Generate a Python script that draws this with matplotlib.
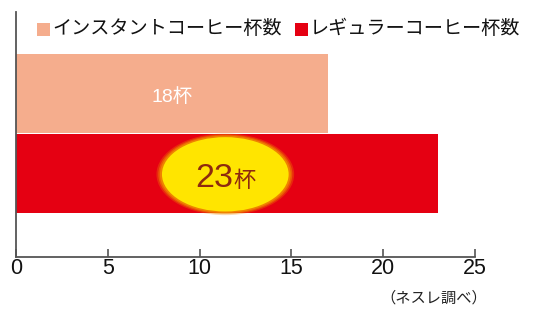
import matplotlib
matplotlib.use("Agg")
import matplotlib.pyplot as plt
from matplotlib.patches import Ellipse, Rectangle

# data
categories = ["インスタントコーヒー杯数", "レギュラーコーヒー杯数"]
values = [17, 23]               # bar lengths as drawn
value_labels = ["18杯", "23杯"]  # labels printed on the bars
xticks = [0, 5, 10, 15, 20, 25]
source = "（ネスレ調べ）"

COLORS = ["#F5AD8D", "#E50012"]
JP = ["Noto Sans CJK JP", "DejaVu Sans"]
NUM = ["Liberation Sans", "Noto Sans CJK JP"]

W, H = 541, 309
fig = plt.figure(figsize=(W / 100, H / 100), dpi=100)
ax = fig.add_axes([16 / W, 1 - 257 / H, (475 - 16) / W, (257 - 12) / H])

ypos = [2, 1]
ax.barh(ypos, values, height=0.99, color=COLORS, zorder=2)
ax.set_xlim(0, 25)
ax.set_ylim(-0.044, 3.02)

for s in ["top", "right"]:
    ax.spines[s].set_visible(False)
for s in ["left", "bottom"]:
    ax.spines[s].set_color("#555555")
    ax.spines[s].set_linewidth(1.3)
ax.set_yticks([])
ax.set_xticks(xticks)
ax.tick_params(axis="x", direction="in", length=6, width=1.2, color="#555555",
               pad=1, labelsize=15.5)
for lab in ax.get_xticklabels():
    lab.set_family(NUM)
    lab.set_color("#111111")

# label on the first bar
ax.text(values[0] / 2, ypos[0] - 0.05, value_labels[0], ha="center", va="center",
        fontsize=14, color="white", family=NUM, zorder=4)

# highlighted ellipse on the second bar
cx, cy = 11.4, ypos[1] - 0.01
for w, a in [(0.5, 0.3), (0.3, 0.5), (0.12, 0.85)]:
    ax.add_patch(Ellipse((cx, cy), 7.0 + w, 0.95 + w / 7.0, facecolor="#F08A00",
                         edgecolor="none", alpha=a, zorder=3))
ax.add_patch(Ellipse((cx, cy), 6.9, 0.93, facecolor="#FFE500", edgecolor="none", zorder=3))
num, unit = value_labels[1][:-1], value_labels[1][-1]
ax.text(11.85, 0.83, num, ha="right", va="baseline", fontsize=24.5,
        color="#8E2A0E", family=NUM, zorder=4)
ax.text(11.85, 0.83, unit, ha="left", va="baseline", fontsize=16,
        color="#8E2A0E", family=JP, zorder=4)

# legend drawn at the top
leg_x = [37, 295]
for i, name in enumerate(categories):
    fig.patches.append(Rectangle((leg_x[i] / W, 1 - 36 / H), 13 / W, 13 / H,
                                 transform=fig.transFigure, facecolor=COLORS[i],
                                 edgecolor="none"))
    fig.text((leg_x[i] + 15) / W, 1 - 29 / H, name, ha="left", va="center",
             fontsize=13.8, family=JP, color="#111111")

fig.text(487 / W, 1 - 298 / H, source, ha="right", va="center",
         fontsize=11, family=JP, color="#222222")

fig.savefig("out.png", dpi=100, facecolor="white")
